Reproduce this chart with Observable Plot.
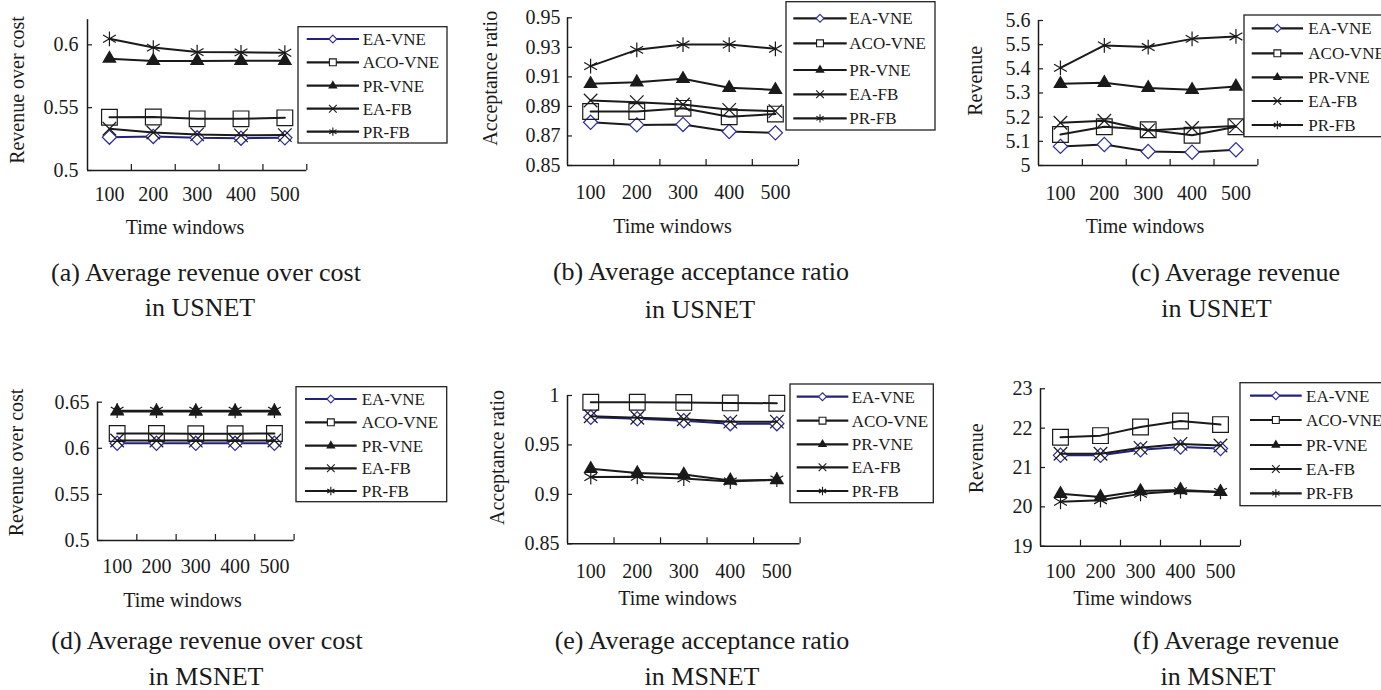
<!DOCTYPE html>
<html>
<head>
<meta charset="utf-8">
<script src="https://cdn.jsdelivr.net/npm/d3@7"></script>
<script src="https://cdn.jsdelivr.net/npm/@observablehq/plot@0.6"></script>
<style>
  html, body { margin: 0; padding: 0; background: #fff; }
  #root { position: relative; width: 1381px; height: 690px; overflow: hidden; background: #fff; }
  #root svg { position: absolute; }
</style>
</head>
<body>
<div id="root"></div>
<script>
// ---------- data ----------
const timeWindows = [100, 200, 300, 400, 500];
const categoryEdges = [150, 250, 350, 450, 550];
const seriesNames = ["EA-VNE", "ACO-VNE", "PR-VNE", "EA-FB", "PR-FB"];

// order of rows: EA-VNE, ACO-VNE, PR-VNE, EA-FB, PR-FB
const revCostUSNET = [
  [0.5265, 0.5271, 0.5260, 0.5257, 0.5260],
  [0.5424, 0.5426, 0.5411, 0.5411, 0.5419],
  [0.5890, 0.5872, 0.5872, 0.5873, 0.5873],
  [0.5332, 0.5302, 0.5287, 0.5280, 0.5282],
  [0.6048, 0.5978, 0.5942, 0.5940, 0.5937]
];
const acceptUSNET = [
  [0.8793, 0.8775, 0.8778, 0.8730, 0.8721],
  [0.8866, 0.8866, 0.8887, 0.8830, 0.8848],
  [0.9053, 0.9064, 0.9087, 0.9026, 0.9012],
  [0.8940, 0.8929, 0.8913, 0.8877, 0.8868],
  [0.9173, 0.9283, 0.9319, 0.9319, 0.9290]
];
const revenueUSNET = [
  [5.079, 5.087, 5.058, 5.055, 5.065],
  [5.128, 5.160, 5.148, 5.125, 5.160],
  [5.338, 5.342, 5.321, 5.313, 5.327],
  [5.177, 5.185, 5.145, 5.155, 5.163],
  [5.404, 5.497, 5.490, 5.524, 5.534]
];
const revCostMSNET = [
  [0.6055, 0.6055, 0.6054, 0.6054, 0.6055],
  [0.6160, 0.6160, 0.6159, 0.6159, 0.6160],
  [0.6400, 0.6400, 0.6399, 0.6399, 0.6400],
  [0.6085, 0.6085, 0.6084, 0.6084, 0.6085],
  [0.6408, 0.6408, 0.6407, 0.6407, 0.6408]
];
const acceptMSNET = [
  [0.9780, 0.9765, 0.9745, 0.9715, 0.9715],
  [0.9932, 0.9932, 0.9930, 0.9925, 0.9922],
  [0.9258, 0.9215, 0.9200, 0.9140, 0.9145],
  [0.9790, 0.9775, 0.9760, 0.9735, 0.9735],
  [0.9175, 0.9178, 0.9160, 0.9130, 0.9150]
];
const revenueMSNET = [
  [21.31, 21.31, 21.45, 21.52, 21.48],
  [21.77, 21.81, 22.03, 22.18, 22.09],
  [20.33, 20.25, 20.40, 20.43, 20.38],
  [21.35, 21.35, 21.50, 21.60, 21.56],
  [20.13, 20.17, 20.33, 20.40, 20.38]
];

const ticksA = [0.5, 0.55, 0.6];
const ticksB = [0.85, 0.87, 0.89, 0.91, 0.93, 0.95];
const ticksC = [5, 5.1, 5.2, 5.3, 5.4, 5.5, 5.6];
const ticksD = [0.5, 0.55, 0.6, 0.65];
const ticksE = [0.85, 0.9, 0.95, 1];
const ticksF = [19, 20, 21, 22, 23];

const captionsTop = ["(a) Average revenue over cost", "(b) Average acceptance ratio", "(c) Average revenue"];
const captionsBottom = ["(d) Average revenue over cost", "(e) Average acceptance ratio", "(f) Average revenue"];
const networks = ["in USNET", "in MSNET"];
const yTitles = ["Revenue over cost", "Acceptance ratio", "Revenue"];
const xTitle = "Time windows";

// ---------- styles ----------
const FONT = "'Liberation Serif', 'Times New Roman', serif";
const INK = "#1a1a1a";
const NAVY = "#22227a";
const DIAMOND = "#2c2c9e";
const symbols = ["diamond2", "square2", "triangle", "times", "asterisk"];
const radius = [6.4, 10, 5.4, 6.2, 7];

const root = document.getElementById("root");

function panel(cfg) {
  const {values, fx0, fx1, fy0, fy1, top, yDomain, yTicks, navy, padX, padY} = cfg;
  const mL = 60, mR = 14, H = 250;
  const width = mL + (fx1 - fx0) + mR;
  const marks = [
    Plot.axisY({ticks: yTicks, tickSize: -5, tickFormat: () => "", strokeWidth: 1.2, label: null}),
    Plot.axisY({ticks: yTicks, tickSize: 0, tickPadding: padY, tickFormat: d => String(d), label: null}),
    Plot.axisX({ticks: categoryEdges, tickSize: -6, tickFormat: () => "", strokeWidth: 1.2, label: null}),
    Plot.axisX({ticks: timeWindows, tickSize: 0, tickPadding: padX, tickFormat: d => String(d), label: null}),
    Plot.ruleX([50], {stroke: INK, strokeWidth: 1.5}),
    Plot.ruleY([yDomain[0]], {stroke: INK, strokeWidth: 1.5})
  ];
  seriesNames.forEach((name, i) => {
    const rows = timeWindows.map((t, j) => ({t, v: values[i][j], name}));
    marks.push(Plot.line(rows, {x: "t", y: "v", stroke: i === 0 && navy ? NAVY : INK, strokeWidth: 2}));
    marks.push(Plot.dot(rows, {
      x: "t", y: "v", symbol: symbols[i], r: radius[i],
      fill: i === 0 ? "white" : i === 2 ? INK : "none",
      stroke: i === 0 ? DIAMOND : INK,
      strokeWidth: i === 2 ? 0 : 1.2
    }));
  });
  const svg = Plot.plot({
    width, height: H,
    marginLeft: mL, marginRight: mR,
    marginTop: fy0 - top, marginBottom: top + H - fy1,
    x: {domain: [50, 550], label: null},
    y: {domain: yDomain, label: null},
    style: {fontFamily: FONT, fontSize: "20px", color: INK, background: "transparent", overflow: "visible"},
    marks
  });
  svg.style.left = (fx0 - mL) + "px";
  svg.style.top = top + "px";
  root.appendChild(svg);
}

panel({values: revCostUSNET, fx0: 86.7, fx1: 306, fy0: 19.2, fy1: 170, top: 0, yDomain: [0.5, 0.62], yTicks: ticksA, navy: true, padX: 16, padY: 9});
panel({values: acceptUSNET, fx0: 567.3, fx1: 798.3, fy0: 17.3, fy1: 165, top: 0, yDomain: [0.85, 0.95], yTicks: ticksB, navy: false, padX: 19, padY: 7});
panel({values: revenueUSNET, fx0: 1038.3, fx1: 1257.7, fy0: 20, fy1: 165, top: 0, yDomain: [5, 5.6], yTicks: ticksC, navy: false, padX: 20, padY: 8});
panel({values: revCostMSNET, fx0: 96.7, fx1: 293.3, fy0: 401.7, fy1: 540, top: 360, yDomain: [0.5, 0.65], yTicks: ticksD, navy: true, padX: 18, padY: 8});
panel({values: acceptMSNET, fx0: 566.7, fx1: 799.3, fy0: 395, fy1: 543.3, top: 360, yDomain: [0.85, 1], yTicks: ticksE, navy: true, padX: 20, padY: 8});
panel({values: revenueMSNET, fx0: 1040, fx1: 1240, fy0: 388.3, fy1: 545.7, top: 360, yDomain: [19, 23], yTicks: ticksF, navy: true, padX: 18, padY: 8});

// ---------- overlay: titles, legends, captions ----------
const ov = d3.select(root).append("svg")
  .attr("width", 1381).attr("height", 690)
  .style("left", "0px").style("top", "0px")
  .style("font-family", FONT).style("fill", INK);

function yTitle(text, cx, cy) {
  ov.append("text").attr("transform", `translate(${cx},${cy}) rotate(-90)`)
    .attr("text-anchor", "middle").attr("dominant-baseline", "central")
    .attr("font-size", 20).attr("fill", INK).text(text);
}
function xTitleAt(cx, by) {
  ov.append("text").attr("x", cx).attr("y", by).attr("text-anchor", "middle")
    .attr("font-size", 20).attr("fill", INK).text(xTitle);
}
yTitle(yTitles[0], 17, 90);    xTitleAt(185, 234);
yTitle(yTitles[1], 489.5, 78.3); xTitleAt(672.5, 233.3);
yTitle(yTitles[2], 975, 80.8); xTitleAt(1145, 233.3);
yTitle(yTitles[0], 15.5, 462.5); xTitleAt(182.5, 606.7);
yTitle(yTitles[1], 496.6, 457.5); xTitleAt(677.5, 605);
yTitle(yTitles[2], 975.5, 458.3); xTitleAt(1132.5, 605);

const legendSym = [d3.symbolDiamond2, d3.symbolSquare2, d3.symbolTriangle, d3.symbolTimes, d3.symbolAsterisk];
const legendSize = [40, 60, 38, 40, 48];
function legend(x0, y0, x1, y1, rows, lx0, lx1, tx, navy) {
  ov.append("rect").attr("x", x0).attr("y", y0).attr("width", x1 - x0).attr("height", y1 - y0)
    .attr("fill", "white").attr("stroke", "#222").attr("stroke-width", 1.3);
  seriesNames.forEach((name, i) => {
    const y = rows[i];
    ov.append("line").attr("x1", lx0).attr("x2", lx1).attr("y1", y).attr("y2", y)
      .attr("stroke", i === 0 && navy ? NAVY : INK).attr("stroke-width", 2.2);
    ov.append("path").attr("d", d3.symbol(legendSym[i], legendSize[i])())
      .attr("transform", `translate(${(lx0 + lx1) / 2},${y})`)
      .attr("fill", i === 0 ? "white" : i === 2 ? INK : "white")
      .attr("stroke", i === 0 ? DIAMOND : INK).attr("stroke-width", i === 2 ? 0 : 1.1);
    ov.append("text").attr("x", tx).attr("y", y + 6).attr("font-size", 17).attr("fill", INK).text(name);
  });
}
legend(298, 26.7, 447, 143, [39, 62.3, 85.7, 108.7, 131.7], 306.7, 359, 362.7, true);
legend(786, 1.7, 935, 130, [18.3, 43.3, 70, 94.3, 118.3], 793.3, 846.7, 849.3, false);
legend(1244, 15, 1400, 136.7, [28.3, 53.3, 77.3, 101, 125], 1251.7, 1303, 1308.3, false);
legend(296, 386.7, 446.7, 501.7, [399, 422.3, 445.7, 468.3, 491], 305, 356.7, 361.7, true);
legend(790, 384, 933.3, 502.7, [396.7, 420.7, 444.3, 467.3, 491], 796.7, 848.3, 851.7, true);
legend(1240, 382.7, 1400, 505.7, [395.7, 420, 445, 469, 493.3], 1250, 1301.7, 1306, true);

function caption(text, cx, by) {
  ov.append("text").attr("x", cx).attr("y", by).attr("text-anchor", "middle")
    .attr("font-size", 26).attr("fill", INK).text(text);
}
caption(captionsTop[0], 206, 281);  caption(networks[0], 200, 316);
caption(captionsTop[1], 701, 280);  caption(networks[0], 700, 318);
caption(captionsTop[2], 1235.6, 281); caption(networks[0], 1216.5, 317);
caption(captionsBottom[0], 207, 649); caption(networks[1], 206, 685);
caption(captionsBottom[1], 702, 649); caption(networks[1], 702, 685);
caption(captionsBottom[2], 1236, 649); caption(networks[1], 1218, 685);
</script>
</body>
</html>
